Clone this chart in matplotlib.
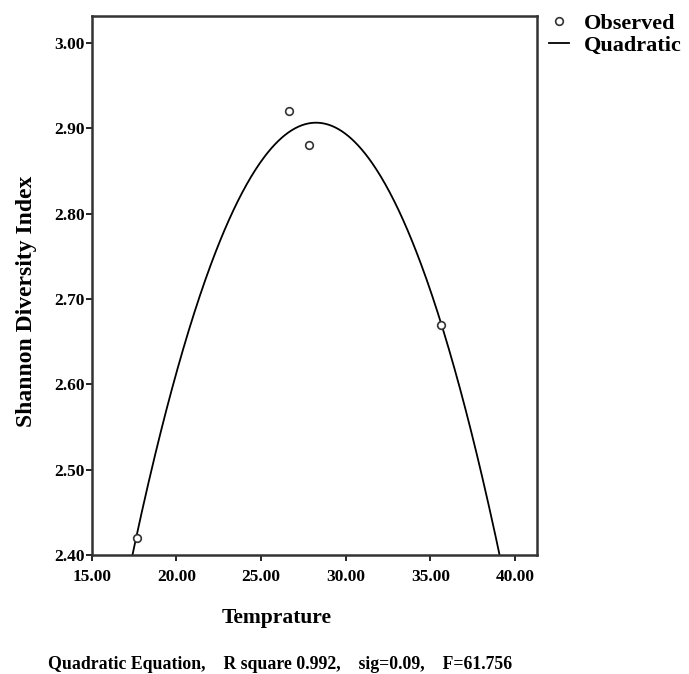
import numpy as np
import matplotlib
matplotlib.use("Agg")
import matplotlib.pyplot as plt

# Observed values
temperature = [17.66, 26.66, 27.84, 35.64]
shannon = [2.42, 2.92, 2.88, 2.67]

# Quadratic fit (c0 + c1*x + c2*x^2)
quad_coef = [-0.5326, 0.2435, -0.00431]

x_ticks = [15, 20, 25, 30, 35, 40]
y_ticks = [2.40, 2.50, 2.60, 2.70, 2.80, 2.90, 3.00]

plt.rcParams['font.family'] = ['Liberation Serif', 'DejaVu Serif']
plt.rcParams['font.weight'] = 'bold'

fig = plt.figure(figsize=(6.89, 6.74), dpi=100)
ax = fig.add_axes([0.1331, 0.1766, 0.6463, 0.8001])

# Fitted curve
xs = np.linspace(15, 41.3, 400)
ys = quad_coef[0] + quad_coef[1] * xs + quad_coef[2] * xs ** 2
ax.plot(xs, ys, color='black', lw=1.3, label='Quadratic', zorder=2)

# Observed points
ax.plot(temperature, shannon, 'o', ms=5.5, mfc='white', mec='#333333', mew=1.2,
        label='Observed', zorder=3)

ax.set_xlim(15, 41.3)
ax.set_ylim(2.40, 3.032)
ax.set_xticks(x_ticks)
ax.set_xticklabels(["%.2f" % v for v in x_ticks])
ax.set_yticks(y_ticks)
ax.set_yticklabels(["%.2f" % v for v in y_ticks])
ax.tick_params(direction='out', length=4, width=1.2, labelsize=12.5)
ax.tick_params(axis='x', pad=6)
ax.tick_params(axis='y', pad=1)

for s in ax.spines.values():
    s.set_linewidth(1.8)
    s.set_color('#333333')

# Legend outside the plot, observed first
handles, labels = ax.get_legend_handles_labels()
fig.legend(handles[::-1], labels[::-1], loc='upper left',
           bbox_to_anchor=(0.797, 0.98), frameon=False,
           borderpad=0, borderaxespad=0,
           handlelength=0.9, handletextpad=0.65, labelspacing=0.05,
           prop={'weight': 'bold', 'size': 16})

# Axis titles
fig.text(0.402, 0.083, 'Temprature', ha='center', va='center', fontsize=15.5,
         fontweight='bold')
fig.text(0.038, 0.553, 'Shannon Diversity Index', ha='center', va='center',
         rotation=90, fontsize=17, fontweight='bold')

# Caption
fig.text(0.07, 0.0134, 'Quadratic Equation,    R square 0.992,    sig=0.09,    F=61.756',
         ha='left', va='center', fontsize=12.8, fontweight='bold')

fig.savefig('out.png', dpi=100)
